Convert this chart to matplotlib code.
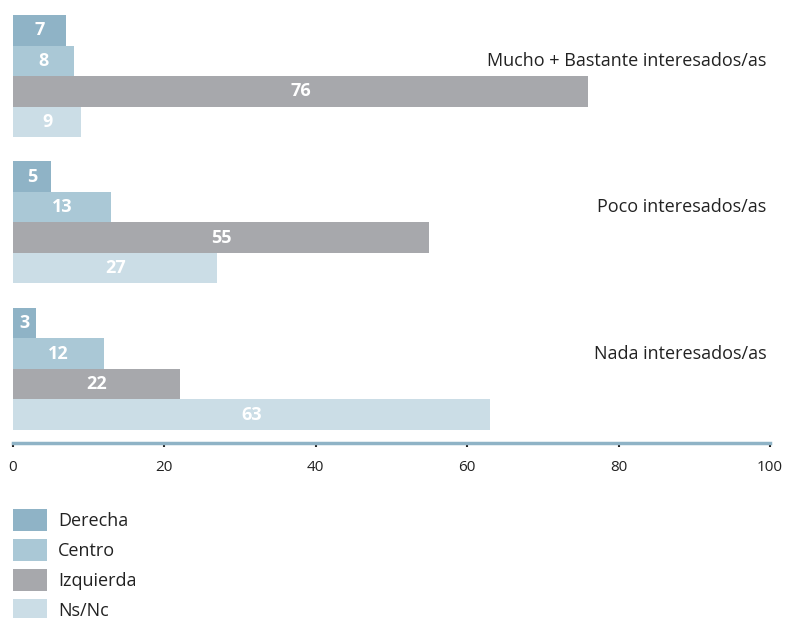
import numpy as np
import matplotlib
matplotlib.use("Agg")
import matplotlib.pyplot as plt

plt.rcParams['font.family'] = ['Open Sans', 'DejaVu Sans']

categories = ['Mucho + Bastante interesados/as', 'Poco interesados/as', 'Nada interesados/as']
series = ['Derecha', 'Centro', 'Izquierda', 'Ns/Nc']
derecha = [7, 5, 3]
centro = [8, 13, 12]
izquierda = [76, 55, 22]
nsnc = [9, 27, 63]
colors = ['#8fb3c6', '#aac8d6', '#a7a8ac', '#cbdde6']

values = [derecha, centro, izquierda, nsnc]

fig = plt.figure(figsize=(7.85, 6.18), dpi=100)
ax = fig.add_axes([13 / 785, (618 - 443) / 618, 757 / 785, 428 / 618])

pitch = 4.8
handles = []
for j, (name, vals, c) in enumerate(zip(series, values, colors)):
    ys = np.arange(len(categories)) * pitch + j + 0.5
    bars = ax.barh(ys, vals, height=1.0, color=c, label=name)
    handles.append(bars)
    for y, v in zip(ys, vals):
        ax.text(v / 2, y, str(v), ha='center', va='center', color='white',
                fontsize=13, fontweight='bold')

for i, cat in enumerate(categories):
    ax.text(99.5, i * pitch + 1.5, cat, ha='right', va='center',
            fontsize=13, color='#222222')

ax.set_xlim(0, 100)
ax.set_ylim(14.03, 0)
ax.set_yticks([])
ax.set_xticks([0, 20, 40, 60, 80, 100])
ax.tick_params(axis='x', length=3, width=1.5, color='#222222', labelsize=11,
               labelcolor='#222222', pad=9)
for s in ['top', 'right', 'left']:
    ax.spines[s].set_visible(False)
ax.spines['bottom'].set_color('#8fb3c6')
ax.spines['bottom'].set_linewidth(2.5)

fig.legend(handles=handles, labels=series, loc='upper left',
           bbox_to_anchor=(13 / 785, (618 - 509) / 618), frameon=False,
           fontsize=13, handlelength=1.9, handleheight=1.5, labelspacing=0.44,
           handletextpad=0.6, borderpad=0, borderaxespad=0, labelcolor='#222222')

fig.savefig('out.png', dpi=100)
